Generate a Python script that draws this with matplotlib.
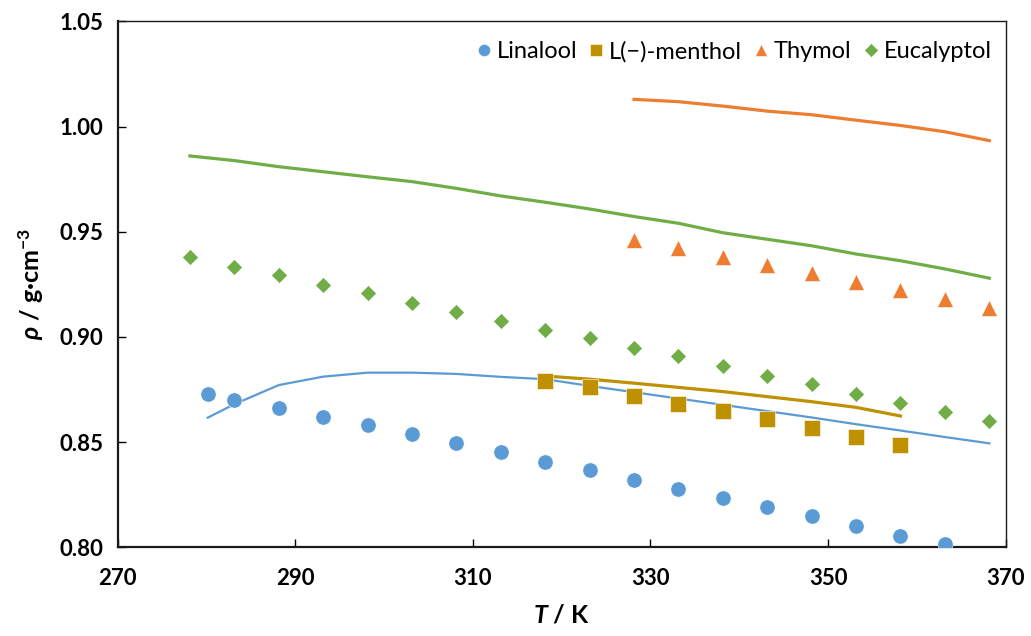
import numpy as np
import matplotlib
matplotlib.use("Agg")
import matplotlib.pyplot as plt
from matplotlib.ticker import FormatStrFormatter

plt.rcParams['font.family'] = ['Lato', 'DejaVu Sans']
plt.rcParams['mathtext.fontset'] = 'custom'
plt.rcParams['mathtext.it'] = 'Lato:italic:bold'
plt.rcParams['mathtext.rm'] = 'Lato:bold'
plt.rcParams['mathtext.bf'] = 'Lato:bold'

# temperatures (K)
T_linalool = [280.15] + [283.15 + 5 * i for i in range(17)]
T_linalool_line = T_linalool + [368.15]
T_menthol = [318.15 + 5 * i for i in range(9)]
T_thymol = [328.15 + 5 * i for i in range(9)]
T_eucalyptol = [278.15 + 5 * i for i in range(19)]

# experimental densities (markers)
rho_linalool = [0.8727, 0.8701, 0.8660, 0.8621, 0.8581, 0.8540, 0.8494, 0.8454,
                0.8406, 0.8367, 0.8320, 0.8279, 0.8233, 0.8192, 0.8148, 0.8099,
                0.8052, 0.8014]
rho_menthol = [0.8792, 0.8760, 0.8720, 0.8681, 0.8648, 0.8608, 0.8567, 0.8525, 0.8484]
rho_thymol = [0.9462, 0.9422, 0.9382, 0.9343, 0.9303, 0.9262, 0.9222, 0.9182, 0.9136]
rho_eucalyptol = [0.9381, 0.9334, 0.9294, 0.9246, 0.9207, 0.9160, 0.9120, 0.9074,
                  0.9034, 0.8993, 0.8949, 0.8909, 0.8862, 0.8814, 0.8775, 0.8727,
                  0.8688, 0.8642, 0.8602]

# calculated densities (lines)
calc_linalool = [0.8616, 0.8680, 0.8771, 0.8811, 0.8830, 0.8830, 0.8824, 0.8810,
                 0.8799, 0.8767, 0.8737, 0.8707, 0.8677, 0.8647, 0.8617, 0.8585,
                 0.8555, 0.8524, 0.8494]
calc_menthol = [0.8814, 0.8799, 0.8780, 0.8760, 0.8740, 0.8716, 0.8692, 0.8665, 0.8624]
calc_thymol = [1.0129, 1.0118, 1.0097, 1.0073, 1.0056, 1.0030, 1.0005, 0.9975, 0.9933]
calc_eucalyptol = [0.9860, 0.9838, 0.9809, 0.9785, 0.9761, 0.9738, 0.9706, 0.9670,
                   0.9640, 0.9608, 0.9572, 0.9540, 0.9495, 0.9464, 0.9433, 0.9394,
                   0.9362, 0.9323, 0.9279]

blue = '#5B9BD5'
gold = '#BF9000'
orange = '#ED7D31'
green = '#70AD47'

fig = plt.figure(figsize=(10.31, 6.36), dpi=100)
ax = fig.add_axes([0.114, 0.1395, 0.8615, 0.827])

ax.plot(T_linalool_line, calc_linalool, color=blue, lw=1.6, zorder=2)
ax.plot(T_menthol, calc_menthol, color=gold, lw=2.3, zorder=2)
ax.plot(T_thymol, calc_thymol, color=orange, lw=2.3, zorder=2)
ax.plot(T_eucalyptol, calc_eucalyptol, color=green, lw=2.3, zorder=2)

ax.plot(T_linalool, rho_linalool, 'o', color=blue, ms=11, mec='white', mew=0.4,
        label='Linalool', zorder=3)
ax.plot(T_menthol, rho_menthol, 's', color=gold, ms=11, mec='white', mew=0.4,
        label='L(\u2212)-menthol', zorder=3)
ax.plot(T_thymol, rho_thymol, '^', color=orange, ms=11, mec='white', mew=0.4,
        label='Thymol', zorder=3)
ax.plot(T_eucalyptol, rho_eucalyptol, 'D', color=green, ms=8.3, mec='white', mew=0.4,
        label='Eucalyptol', zorder=3)

ax.set_xlim(270, 370)
ax.set_ylim(0.80, 1.05)
ax.set_xticks(np.arange(270, 371, 20))
ax.set_yticks(np.arange(0.80, 1.051, 0.05))
ax.yaxis.set_major_formatter(FormatStrFormatter('%.2f'))
ax.tick_params(direction='in', length=6, width=1, labelsize=16, pad=10)
ax.tick_params(axis='x', pad=15)
for lbl in ax.get_xticklabels() + ax.get_yticklabels():
    lbl.set_fontweight('bold')

for side in ['left', 'bottom']:
    ax.spines[side].set_linewidth(1.6)
    ax.spines[side].set_color('#1a1a1a')
for side in ['top', 'right']:
    ax.spines[side].set_linewidth(1.0)
    ax.spines[side].set_color('#1a1a1a')

ax.set_xlabel(r'$T$ / K', fontsize=18, fontweight='bold', labelpad=10)
ax.set_ylabel(r'$\rho$ / g·cm$^{-3}$', fontsize=18, fontweight='bold', labelpad=10)

ax.legend(loc='upper right', bbox_to_anchor=(1.0, 0.99), ncol=4, frameon=False,
          fontsize=17, handlelength=0.6, handletextpad=0.25, columnspacing=0.5,
          borderaxespad=0.2, markerscale=0.8)

fig.savefig('out.png', dpi=100)
